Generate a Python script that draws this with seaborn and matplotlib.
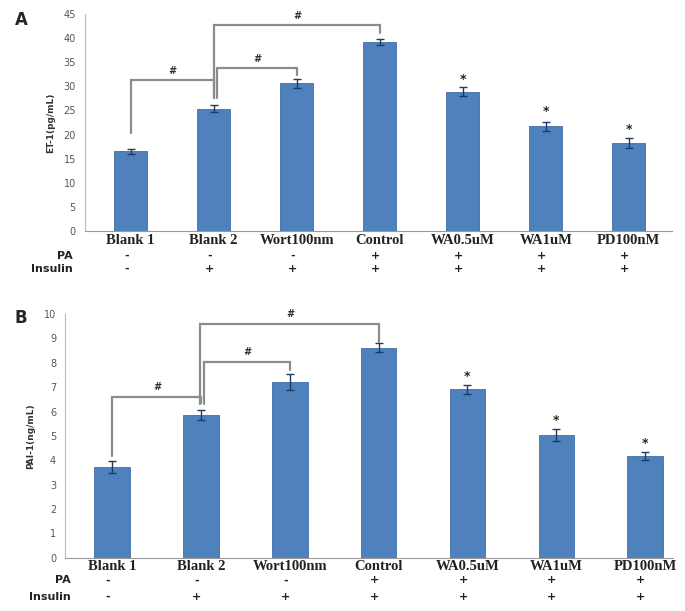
import matplotlib
matplotlib.use("Agg")
import matplotlib.pyplot as plt
import pandas as pd
import seaborn as sns

# Data
groups = ["Blank 1", "Blank 2", "Wort100nm", "Control", "WA0.5uM", "WA1uM", "PD100nM"]
pa_signs = ["-", "-", "-", "+", "+", "+", "+"]
insulin_signs = ["-", "+", "+", "+", "+", "+", "+"]

et1_mean = [16.5, 25.4, 30.6, 39.2, 28.9, 21.7, 18.2]
et1_err = [0.5, 0.8, 0.9, 0.7, 0.9, 1.0, 1.0]

pai1_mean = [3.73, 5.85, 7.2, 8.62, 6.91, 5.03, 4.19]
pai1_err = [0.25, 0.2, 0.33, 0.18, 0.18, 0.24, 0.16]

# brackets: (left group, right group, height, left leg end, right leg end, left offset)
et1_brackets = [(0, 1, 31.3, 20.3, 27.6, 0.0), (1, 2, 33.8, 27.6, 32.4, 0.04),
                (1, 3, 42.7, 27.6, 41.0, 0.0)]
pai1_brackets = [(0, 1, 6.61, 4.17, 6.35, -0.07), (1, 2, 8.04, 6.33, 7.7, 0.03),
                 (1, 3, 9.59, 6.33, 8.86, -0.01)]
et1_stars = [31.5, 24.7, 21.0]
pai1_stars = [7.45, 5.62, 4.69]

BAR = "#4f81bd"
GREY = "#8c8c8c"


def draw_panel(ax, values, errs, brackets, stars, ymax, ystep, ylabel,
               xlim, xlab_y, pa_y, ins_y, label_x):
    df = pd.DataFrame({"group": groups, "value": values})
    sns.barplot(data=df, x="group", y="value", ax=ax, color=BAR, width=0.4,
                saturation=1, edgecolor="#3f6ea6", linewidth=0.6, errorbar=None)
    ax.errorbar(range(len(groups)), values, yerr=errs, fmt="none",
                ecolor="#1f3a66", elinewidth=1, capsize=3, capthick=1)

    # significance brackets
    for a, b, h, la, rb, off in brackets:
        xa = a if a != 1 else a + off
        xb = b
        ax.plot([xa, xa, xb, xb], [la, h, h, rb], color=GREY, lw=1.6,
                solid_joinstyle="miter")
        ax.text((xa + xb) / 2, h + ymax * 0.02, "#", ha="center", va="bottom",
                fontsize=7, fontweight="bold", color="#333333", style="italic")
    for i, s in zip([4, 5, 6], stars):
        ax.text(i, s, "*", ha="center", va="center", fontsize=9,
                fontweight="bold", color="#222222")

    ax.set_ylim(0, ymax)
    ax.set_xlim(*xlim)
    ax.set_yticks(range(0, ymax + 1, ystep))
    ax.set_xlabel("")
    ax.set_ylabel(ylabel, fontsize=6.5, fontweight="bold", color="#333333", labelpad=6)
    ax.tick_params(axis="y", labelsize=7, colors="#7a7a7a", length=3, width=0.8,
                   labelcolor="#555555")
    ax.tick_params(axis="x", length=0)
    ax.set_xticklabels([])
    for sp in ["top", "right"]:
        ax.spines[sp].set_visible(False)
    ax.spines["left"].set_color("#bbbbbb")
    ax.spines["bottom"].set_color("#999999")

    trans = ax.get_xaxis_transform()
    for i, g in enumerate(groups):
        ax.text(i, xlab_y, g, transform=trans, ha="center", va="center",
                fontsize=10.5, fontweight="bold", family="Liberation Serif",
                color="#222222")
        ax.text(i - 0.05, pa_y, pa_signs[i], transform=trans, ha="center",
                va="center", fontsize=8, fontweight="bold", color="#222222")
        ax.text(i - 0.05, ins_y, insulin_signs[i], transform=trans, ha="center",
                va="center", fontsize=8, fontweight="bold", color="#222222")
    # row labels, placed in figure x but axes y
    blend = matplotlib.transforms.blended_transform_factory(fig.transFigure, ax.transAxes)
    ax.text(label_x, pa_y, "PA", transform=blend, ha="right", va="center",
            fontsize=8, fontweight="bold", color="#222222")
    ax.text(label_x, ins_y, "Insulin", transform=blend, ha="right",
            va="center", fontsize=8, fontweight="bold", color="#222222")
    return ax


sns.set_style("white")
plt.rcParams["font.family"] = ["DejaVu Sans"]

fig = plt.figure(figsize=(6.85, 6.11), dpi=100)
ax_a = fig.add_axes([0.124, 0.622, 0.857, 0.355])
ax_b = fig.add_axes([0.095, 0.087, 0.887, 0.399])

draw_panel(ax_a, et1_mean, et1_err, et1_brackets, et1_stars, 45, 5,
           "ET-1(pg/mL)", (-0.55, 6.52), -0.046, -0.115, -0.175, 73 / 685)
draw_panel(ax_b, pai1_mean, pai1_err, pai1_brackets, pai1_stars, 10, 1,
           "PAI-1(ng/mL)", (-0.53, 6.31), -0.037, -0.092, -0.161, 71 / 685)

fig.text(15 / 685, 1 - 20 / 611, "A", fontsize=12, fontweight="bold",
         ha="left", va="center")
fig.text(15 / 685, 1 - 318 / 611, "B", fontsize=12, fontweight="bold",
         ha="left", va="center")

fig.savefig("out.png", dpi=100)
